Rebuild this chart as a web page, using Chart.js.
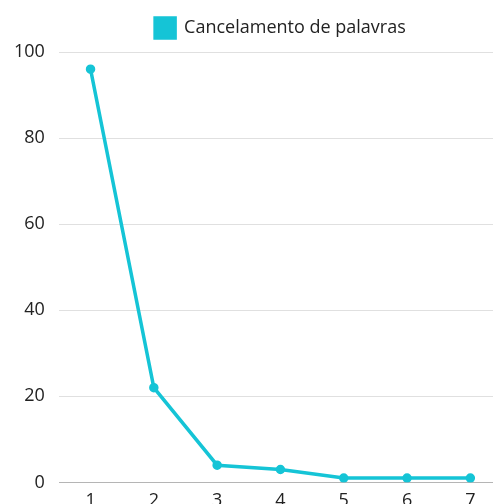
<!DOCTYPE html>
<html>
<head>
<meta charset="utf-8">
<script src="https://cdn.jsdelivr.net/npm/chart.js@4"></script>
<style>
  html, body { margin: 0; padding: 0; background: #fff; overflow: hidden; }
  #wordChart { position: absolute; left: 0; top: 0; }
</style>
</head>
<body>
<canvas id="wordChart" width="502" height="512"></canvas>
<script>
// cancelamentos por posição
const labels = ['1', '2', '3', '4', '5', '6', '7'];
const cancelamentos = [96, 22, 4, 3, 1, 1, 1];
const yTicks = [0, 20, 40, 60, 80, 100];

const lineColor = '#15c4d6';
const textColor = '#222';
const fontFace = 'Open Sans';

// a bit more room between legend and plot
const legendGap = {
    id: 'legendGap',
    beforeInit(chart) {
        const fit = chart.legend.fit;
        chart.legend.fit = function () {
            fit.bind(chart.legend)();
            this.height += 4;
        };
    }
};

const ctx = document.getElementById('wordChart').getContext('2d');
new Chart(ctx, {
    type: 'line',
    data: {
        labels: labels,
        datasets: [{
            label: 'Cancelamento de palavras',
            data: cancelamentos,
            borderColor: lineColor,
            backgroundColor: lineColor,
            borderWidth: 3.5,
            pointRadius: 3,
            pointHoverRadius: 4,
            tension: 0
        }]
    },
    options: {
        responsive: false,
        animation: false,
        layout: { autoPadding: false, padding: { left: 0, top: 8, right: 0, bottom: 0 } },
        plugins: {
            legend: {
                position: 'top',
                fullSize: false,
                labels: {
                    boxWidth: 20,
                    boxHeight: 20,
                    padding: 10,
                    color: textColor,
                    font: { family: fontFace, size: 18 }
                }
            },
            tooltip: { enabled: false }
        },
        scales: {
            x: {
                offset: true,
                grid: { display: false },
                border: { display: false },
                ticks: {
                    color: textColor,
                    padding: 0,
                    font: { family: fontFace, size: 18 }
                }
            },
            y: {
                min: 0,
                max: 100,
                afterBuildTicks: axis => { axis.ticks = yTicks.map(v => ({ value: v })); },
                grid: {
                    drawTicks: false,
                    color: c => c.tick && c.tick.value === 0 ? '#b5b5b5' : '#e0e0e0',
                    lineWidth: 1
                },
                border: { display: false },
                ticks: {
                    color: textColor,
                    padding: 14,
                    font: { family: fontFace, size: 18 }
                }
            }
        }
    },
    plugins: [legendGap]
});
</script>
</body>
</html>
